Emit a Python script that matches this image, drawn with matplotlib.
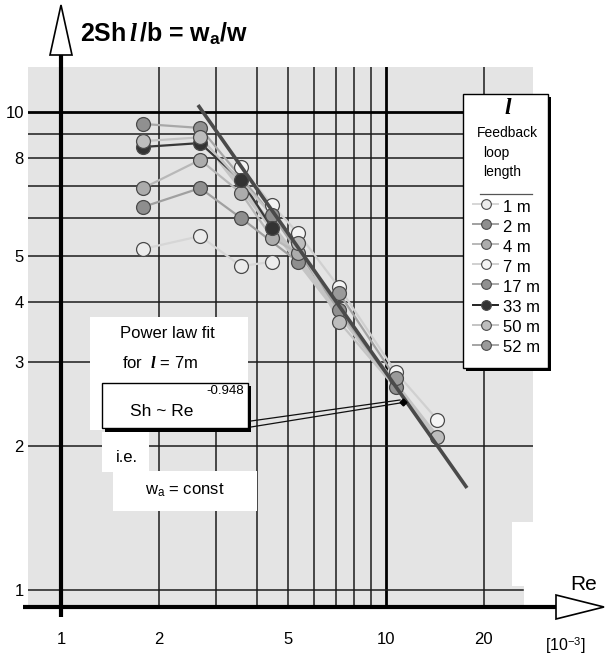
import matplotlib
matplotlib.use('Agg')
import matplotlib.pyplot as plt
from matplotlib.patches import Rectangle, Polygon
from matplotlib.ticker import NullLocator, FixedLocator, FixedFormatter

plt.rcParams['font.family'] = ['Liberation Sans', 'DejaVu Sans']
plt.rcParams['mathtext.fontset'] = 'custom'
plt.rcParams['mathtext.rm'] = 'Liberation Sans:bold'
plt.rcParams['mathtext.sf'] = 'Liberation Sans'
plt.rcParams['mathtext.it'] = 'Liberation Serif:italic:bold'
plt.rcParams['mathtext.bf'] = 'Liberation Sans:bold'

# ---------------- data (Re in 1e3, Sh*2l/b) ----------------
labels = ['1 m', '2 m', '4 m', '7 m', '17 m', '33 m', '50 m', '52 m']
re_1m = [1.79, 2.68, 3.58, 4.46]
sh_1m = [5.17, 5.50, 4.76, 4.86]
re_2m = [1.79, 2.68, 3.58, 5.36]
sh_2m = [6.33, 6.93, 6.00, 4.86]
re_4m = [1.79, 2.68, 3.58, 4.46, 5.36]
sh_4m = [6.93, 7.94, 6.77, 5.45, 5.07]
re_7m = [3.58, 4.46, 5.36, 7.17, 10.7, 14.4]
sh_7m = [7.67, 6.39, 5.58, 4.30, 2.86, 2.27]
re_17m = [1.79, 2.68, 4.46, 7.17, 10.7]
sh_17m = [9.44, 9.26, 6.09, 3.85, 2.66]
re_33m = [1.79, 2.68, 3.58, 4.46]
sh_33m = [8.45, 8.61, 7.20, 5.72]
re_50m = [1.79, 2.68, 5.36, 7.17, 14.4]
sh_50m = [8.69, 8.85, 5.32, 3.64, 2.09]
re_52m = [7.17, 10.7]
sh_52m = [4.18, 2.78]

# power-law fit lines (end points)
fit_re = [2.64, 17.75]
fit_sh = [10.34, 1.635]
fit2_re = [3.08, 13.95]
fit2_sh = [7.94, 2.13]

xticks = [1, 2, 5, 10, 20]
xticklabels = ['1', '2', '5', '10', '20']
yticks = [1, 2, 3, 4, 5, 8, 10]
yticklabels = ['1', '2', '3', '4', '5', '8', '10']

series_x = [re_1m, re_2m, re_4m, re_7m, re_17m, re_33m, re_50m, re_52m]
series_y = [sh_1m, sh_2m, sh_4m, sh_7m, sh_17m, sh_33m, sh_50m, sh_52m]
fills = ['#ececec', '#8e8e8e', '#acacac', '#f4f4f4', '#909090', '#333333', '#bdbdbd', '#9a9a9a']
lcols = ['#d6d6d6', '#a0a0a0', '#b8b8b8', '#d0d0d0', '#a8a8a8', '#383838', '#c4c4c4', '#a4a4a4']

W, H, DPI = 605, 659, 100
fig = plt.figure(figsize=(W / DPI, H / DPI), dpi=DPI)

# main axes: pixel box 28..533 x 67..607
ax = fig.add_axes([28 / W, 1 - 607 / H, 505 / W, 540 / H])
ax.set_xscale('log')
ax.set_yscale('log')
ax.set_xlim(0.7915, 28.34)
ax.set_ylim(0.9214, 12.42)
ax.set_facecolor('#e4e4e4')
for s in ax.spines.values():
    s.set_visible(False)

gc = '#1c1c1c'
for v in [2, 3, 4, 5, 6, 7, 8, 9, 20]:
    ax.axvline(v, color=gc, lw=1.1, zorder=1)
ax.axvline(10, color='#000000', lw=2.0, zorder=1)
for v in [2, 3, 4, 5, 6, 7, 8, 9]:
    ax.axhline(v, color=gc, lw=1.1, zorder=1)
ax.axhline(1, color=gc, lw=1.1, xmax=(523 - 28) / 505, zorder=1)
ax.axhline(10, color='#000000', lw=2.0, zorder=1)

ax.xaxis.set_major_locator(FixedLocator(xticks))
ax.xaxis.set_major_formatter(FixedFormatter(xticklabels))
ax.yaxis.set_major_locator(FixedLocator(yticks))
ax.yaxis.set_major_formatter(FixedFormatter(yticklabels))
ax.xaxis.set_minor_locator(NullLocator())
ax.yaxis.set_minor_locator(NullLocator())
ax.tick_params(axis='x', length=0, pad=18, labelsize=12)
ax.tick_params(axis='y', length=0, pad=3, labelsize=12)

# fit lines
ax.plot(fit2_re, fit2_sh, color='#c4c4c4', lw=4.0, zorder=3, solid_capstyle='butt')
ax.plot(fit_re, fit_sh, color='#4a4a4a', lw=2.6, zorder=6, solid_capstyle='butt')

# series
for i, (xs, ys) in enumerate(zip(series_x, series_y)):
    ax.plot(xs, ys, color=lcols[i], lw=1.6, zorder=4)
for i, (xs, ys) in enumerate(zip(series_x, series_y)):
    ax.plot(xs, ys, ls='none', marker='o', ms=10, mfc=fills[i],
            mec='#4a4a4a', mew=0.9, zorder=5)

# ---------------- overlay in pixel coords ----------------
ov = fig.add_axes([0, 0, 1, 1], zorder=10)
ov.set_xlim(0, W)
ov.set_ylim(H, 0)
ov.axis('off')
ov.patch.set_alpha(0)

# notch in gray area
ov.add_patch(Rectangle((512, 522), 21, 64, fc='white', ec='none'))
ov.add_patch(Rectangle((524, 586), 9, 21, fc='white', ec='none'))

# axes with hollow arrows
ov.plot([61, 61], [55, 617], color='black', lw=3, solid_capstyle='butt')
ov.add_patch(Polygon([[50, 55], [72, 55], [61, 5]], closed=True, fc='white', ec='black', lw=1.2))
ov.plot([23, 556], [607, 607], color='black', lw=3, solid_capstyle='butt')
ov.add_patch(Polygon([[556, 595], [556, 619], [604, 607]], closed=True, fc='white', ec='black', lw=1.2))

ov.text(80, 34, r'2Sh$\,\mathit{l}\,$/b = w$_\mathrm{a}$/w', fontsize=18, fontweight='bold',
        ha='left', va='center')
ov.text(584, 584, 'Re', fontsize=15, ha='center', va='center')
ov.text(565, 646, r'[10$^{\mathsf{-3}}$]', fontsize=11.5, ha='center', va='center')

# annotation boxes
ov.add_patch(Rectangle((90, 317), 158, 113, fc='white', ec='none'))
ov.text(167, 333, 'Power law fit', fontsize=12, ha='center', va='center')
ov.text(160, 363, r'for  $\mathit{l}$ = 7m', fontsize=12, ha='center', va='center')
ov.add_patch(Rectangle((105, 386), 146, 46, fc='black', ec='none'))
ov.add_patch(Rectangle((102, 383), 146, 45, fc='white', ec='black', lw=1.0))
ov.text(162, 411, 'Sh ~ Re', fontsize=12.5, ha='center', va='center')
ov.text(225, 391, '-0.948', fontsize=9.5, ha='center', va='center')
ov.add_patch(Rectangle((102, 432), 47, 40, fc='white', ec='none'))
ov.text(127, 457, 'i.e.', fontsize=12, ha='center', va='center')
ov.add_patch(Rectangle((113, 471), 144, 40, fc='white', ec='none'))
ov.text(185, 490, r'w$_\mathsf{a}$ = const', fontsize=12, ha='center', va='center')

# double-line pointer
ov.plot([251, 400], [421, 400], color='#111111', lw=0.9)
ov.plot([251, 400], [427, 403], color='#111111', lw=0.9)
ov.plot([403], [402], marker='D', ms=3.5, color='black')

# legend
ov.add_patch(Rectangle((466, 97), 85, 274, fc='black', ec='none'))
ov.add_patch(Rectangle((463, 94), 85, 274, fc='white', ec='black', lw=1.0))
ov.text(508, 108, r'$\mathit{l}$', fontsize=17, ha='center', va='center')
ov.text(507, 133, 'Feedback', fontsize=10, ha='center', va='center')
ov.text(483, 153, 'loop', fontsize=10, ha='left', va='center')
ov.text(483, 172, 'length', fontsize=10, ha='left', va='center')
ov.plot([480, 532], [194, 194], color='#555555', lw=0.9)
for i, lab in enumerate(labels):
    y = 207 + i * 20.1
    ov.plot([473, 498], [y - 3, y - 3], color=lcols[i] if i != 5 else '#222222', lw=1.4)
    ov.plot([486], [y - 3], marker='o', ms=7, mfc=fills[i], mec='#4a4a4a', mew=0.8)
    ov.text(503, y, lab, fontsize=12, ha='left', va='center')

fig.savefig('out.png', dpi=DPI)
